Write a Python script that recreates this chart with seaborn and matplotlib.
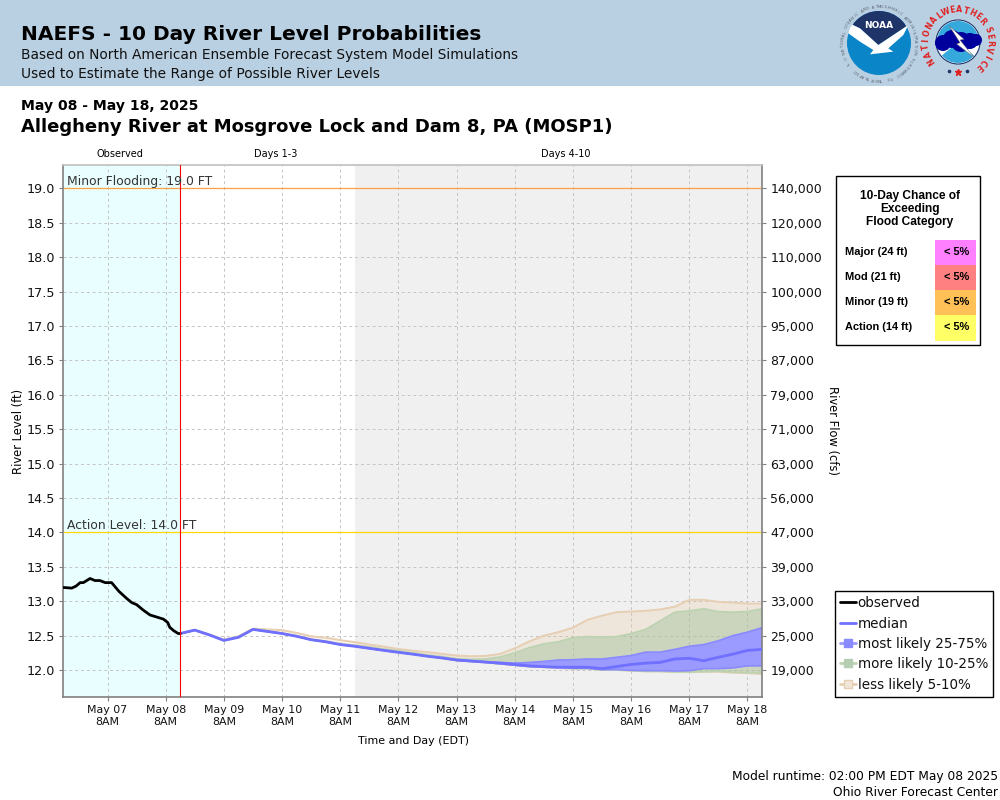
import numpy as np
import pandas as pd
import matplotlib
matplotlib.use("Agg")
import matplotlib.pyplot as plt
from matplotlib.patches import Rectangle, Circle, Wedge, Polygon
from matplotlib.lines import Line2D
import seaborn as sns

sns.set_theme(style="white")
plt.rcParams['font.family'] = ['DejaVu Sans']

# ---------- data (days since May 07 8AM) ----------
obs_t = [-0.76,-0.615,-0.54,-0.47,-0.415,-0.30,-0.215,-0.13,-0.04,0.07,0.2,0.33,0.415,0.50,0.615,0.73,0.845,0.96,1.035,1.07,1.14,1.215,1.25]
obs_v = [13.20,13.19,13.22,13.27,13.27,13.33,13.30,13.30,13.27,13.27,13.14,13.04,12.98,12.95,12.87,12.80,12.77,12.74,12.69,12.62,12.57,12.53,12.53]
fc_t = [1.25,1.5,1.75,2.0,2.25,2.5,2.75,3.0,3.25,3.5,3.75,4.0,4.25,4.5,4.75,5.0,5.25,5.5,5.75,6.0,6.25,6.5,6.75,7.0,
        7.25,7.5,7.75,8.0,8.25,8.5,8.75,9.0,9.25,9.5,9.75,10.0,10.25,10.5,10.75,11.0,11.25]
median = [12.53,12.58,12.51,12.43,12.475,12.59,12.56,12.53,12.49,12.44,12.41,12.37,12.345,12.315,12.285,12.257,12.23,12.20,12.175,12.145,12.13,12.115,12.10,12.08,
          12.06,12.05,12.04,12.04,12.04,12.02,12.05,12.08,12.10,12.11,12.16,12.17,12.135,12.185,12.23,12.285,12.30]
q75 = [12.53,12.58,12.51,12.43,12.475,12.59,12.56,12.53,12.49,12.44,12.41,12.37,12.345,12.315,12.285,12.257,12.23,12.20,12.175,12.15,12.135,12.12,12.11,12.10,
       12.11,12.125,12.145,12.15,12.16,12.16,12.185,12.21,12.26,12.26,12.30,12.345,12.37,12.425,12.50,12.55,12.615]
q25 = [12.53,12.58,12.51,12.43,12.475,12.59,12.56,12.53,12.49,12.44,12.41,12.37,12.345,12.315,12.285,12.257,12.23,12.20,12.175,12.14,12.125,12.11,12.09,12.07,
       12.05,12.04,12.035,12.025,12.025,12.005,12.005,11.995,11.99,11.99,11.985,11.99,12.02,12.02,12.03,12.06,12.06]
q90 = [12.53,12.58,12.51,12.43,12.475,12.59,12.565,12.535,12.495,12.445,12.42,12.38,12.36,12.335,12.305,12.28,12.25,12.22,12.195,12.165,12.155,12.16,12.19,12.25,
       12.325,12.38,12.41,12.47,12.485,12.48,12.485,12.53,12.59,12.715,12.84,12.86,12.89,12.85,12.84,12.85,12.89]
q10 = [12.53,12.58,12.51,12.43,12.475,12.59,12.56,12.53,12.49,12.44,12.41,12.37,12.345,12.315,12.285,12.257,12.23,12.20,12.175,12.14,12.125,12.11,12.09,12.07,
       12.05,12.04,12.03,12.02,12.02,12.00,12.00,11.99,11.98,11.98,11.97,11.97,11.975,11.98,11.97,11.96,11.955]
q95 = [12.53,12.58,12.52,12.44,12.49,12.60,12.59,12.58,12.54,12.49,12.47,12.435,12.405,12.37,12.34,12.305,12.28,12.26,12.235,12.21,12.20,12.205,12.235,12.315,
       12.415,12.50,12.55,12.615,12.73,12.79,12.84,12.85,12.86,12.88,12.92,13.02,13.02,12.99,12.98,12.965,12.965]
q05 = [12.53,12.58,12.51,12.43,12.475,12.59,12.56,12.53,12.49,12.44,12.41,12.37,12.345,12.315,12.285,12.257,12.23,12.20,12.175,12.14,12.125,12.11,12.09,12.07,
       12.05,12.04,12.03,12.02,12.02,12.00,12.00,11.99,11.98,11.98,11.97,11.97,11.975,11.975,11.96,11.955,11.94]

level_ticks = [12.0,12.5,13.0,13.5,14.0,14.5,15.0,15.5,16.0,16.5,17.0,17.5,18.0,18.5,19.0]
flow_labels = ["19,000","25,000","33,000","39,000","47,000","56,000","63,000","71,000","79,000","87,000","95,000","100,000","110,000","120,000","140,000"]
day_labels = ["May 07","May 08","May 09","May 10","May 11","May 12","May 13","May 14","May 15","May 16","May 17","May 18"]
flood_names = ["Major (24 ft)","Mod (21 ft)","Minor (19 ft)","Action (14 ft)"]
flood_chance = ["< 5%","< 5%","< 5%","< 5%"]
flood_colors = ["#FF80FF","#FF8080","#FFC058","#FFFF66"]

obs_df = pd.DataFrame({"t": obs_t, "v": obs_v})
fc_df = pd.DataFrame({"t": fc_t, "median": median})

W, H = 1000, 800
fig = plt.figure(figsize=(W/100, H/100), dpi=100, facecolor="white")

# ---------- overlay in pixel coordinates (behind) ----------
bg = fig.add_axes([0, 0, 1, 1], zorder=0)
bg.set_xlim(0, W); bg.set_ylim(H, 0); bg.axis("off")
bg.add_patch(Rectangle((0, 0), W, 85.5, fc="#B9D0E3", ec="none"))

def T(x, y, s, size, **kw):
    kw.setdefault("va", "baseline"); kw.setdefault("color", "black")
    bg.text(x, y, s, fontsize=size, **kw)

T(21, 40, "NAEFS - 10 Day River Level Probabilities", 14.5, fontweight="bold")
T(21, 59, "Based on North American Ensemble Forecast System Model Simulations", 9.88, color="#111111")
T(21, 78, "Used to Estimate the Range of Possible River Levels", 9.88, color="#111111")
T(21, 110, "May 08 - May 18, 2025", 10.05, fontweight="bold")
T(21, 132, "Allegheny River at Mosgrove Lock and Dam 8, PA (MOSP1)", 12.97, fontweight="bold")
T(120, 157, "Observed", 7, ha="center")
T(276, 157, "Days 1-3", 7, ha="center")
T(566, 157, "Days 4-10", 7, ha="center")
T(413, 744, "Time and Day (EDT)", 7.9, ha="center")
T(19, 431, "River Level (ft)", 8.3, ha="center", va="center", rotation=90)
T(832, 431, "River Flow (cfs)", 8.3, ha="center", va="center", rotation=-90)
T(998, 780, "Model runtime: 02:00 PM EDT May 08 2025", 8.8, ha="right")
T(998, 796, "Ohio River Forecast Center", 8.8, ha="right")

def ring(cx, cy, r, s, a0, a1, size, color, **kw):
    angs = np.linspace(a0, a1, len(s))
    for ch, a in zip(s, angs):
        px = cx + r*np.cos(np.radians(a)); py = cy - r*np.sin(np.radians(a))
        rot = a - 90 if a > -90 else a + 90
        bg.text(px, py, ch, fontsize=size, color=color, ha="center", va="center", rotation=rot, **kw)

def zp(pts):
    # logo outlines measured on a 3x crop whose origin is x=760, y=0
    return [(760 + x/3, y/3) for x, y in pts]

# NOAA logo
cx, cy = 879, 43
disc = Circle((cx, cy), 32, fc="#0A85C8", ec="none", zorder=2)
bg.add_patch(disc)
navy = Polygon(zp([(250, 60), (300, 85), (355, 135), (445, 75), (470, 60), (470, 20), (250, 20)]), fc="#1F3468", ec="none", zorder=3)
bg.add_patch(navy); navy.set_clip_path(Circle((cx, cy), 32, transform=bg.transData))
bird = Polygon(zp([(268, 70), (300, 85), (355, 135), (445, 75), (430, 105), (385, 145), (400, 155), (330, 163), (340, 150), (300, 125), (265, 100)]),
               fc="white", ec="none", zorder=4)
bg.add_patch(bird); bird.set_clip_path(Circle((cx, cy), 32.5, transform=bg.transData))
bg.text(cx, 25, "NOAA", color="white", fontsize=6.5, fontweight="bold", ha="center", va="center", zorder=5)
ring(cx, cy, 36, "NATIONAL OCEANIC AND ATMOSPHERIC ADMINISTRATION", 195, -15, 2.9, "#5A6470", zorder=5)
ring(cx, cy, 36, "U.S. DEPARTMENT OF COMMERCE", 205, 335, 2.9, "#5A6470", zorder=5)

# NWS logo
nx, ny = 958, 42
bg.add_patch(Circle((nx, ny), 22, fc="white", ec="#1F3468", lw=0.8, zorder=2))
bg.add_patch(Wedge((nx, ny), 21, 190, 350, fc="#35A8DC", ec="none", zorder=3))
bg.add_patch(Wedge((nx, ny), 21, 40, 140, fc="#35A8DC", ec="none", zorder=3))
for dx, dy, r in [(-15, 1, 8), (-6, -3, 9), (3, 0, 10), (12, -1, 8), (18, -2, 6)]:
    bg.add_patch(Circle((nx+dx, ny+dy), r, fc="#00009C", ec="none", zorder=4))
bg.add_patch(Polygon(zp([(568, 78), (612, 118), (600, 120), (642, 172), (590, 132), (600, 128)]), fc="white", ec="#666666", lw=0.3, zorder=5))
ring(nx, ny, 32, "NATIONAL", 215, 125, 5.6, "#E02020", fontweight="bold", zorder=5)
ring(nx, ny, 32, "WEATHER", 112, 40, 5.6, "#E02020", fontweight="bold", zorder=5)
ring(nx, ny, 32, "SERVICE", 22, -50, 5.6, "#E02020", fontweight="bold", zorder=5)
bg.plot([nx], [72], marker="*", ms=5, color="#E02020", zorder=5)
bg.plot([nx-9, nx+9], [71, 71], ls="none", marker="o", ms=1.6, color="#1F3468", zorder=5)

# Flood table
bg.add_patch(Rectangle((836, 176), 144, 168.5, fc="white", ec="black", lw=1, zorder=1))
for i, line in enumerate(["10-Day Chance of", "Exceeding", "Flood Category"]):
    T(910, 199+13*i, line, 8.6, ha="center", family="Liberation Sans", fontweight="bold", zorder=3)
for i, (n, c, col) in enumerate(zip(flood_names, flood_chance, flood_colors)):
    bg.add_patch(Rectangle((935, 240+25*i), 41, 25+(1 if i == 3 else 0), fc=col, ec="none", zorder=2))
    T(845, 255+25*i, n, 7.9, family="Liberation Sans", fontweight="bold", zorder=3)
    T(957, 255+25*i, c, 7.9, ha="center", family="Liberation Sans", fontweight="bold", zorder=3)

# ---------- main axes ----------
L, R, TOP, BOT = 63, 762, 165, 697
ax = fig.add_axes([L/W, 1-BOT/H, (R-L)/W, (BOT-TOP)/H], zorder=2)
ax.set_xlim(-0.765, 11.25)
ax.set_ylim(11.6075, 19.34)
ax.set_facecolor("white")
ax.axvspan(-0.765, 1.25, fc="#E9FFFF", ec="none", zorder=0)
ax.axvspan(4.25, 11.25, fc="#F0F0F0", ec="none", zorder=0)
ax.set_xticks(range(12))
ax.set_xticklabels([f"{d}\n8AM" for d in day_labels], fontsize=7.9, linespacing=1.25, color="#111111")
ax.set_yticks(level_ticks)
ax.set_yticklabels([f"{v:.1f}" for v in level_ticks], fontsize=9.2, color="#111111")
ax.grid(True, color="#C4C4C4", ls=(0, (3, 3)), lw=0.7, zorder=1)
ax.set_axisbelow(True)
ax.tick_params(axis="both", length=3, width=0.8, color="#808080", pad=3, bottom=True, left=True)
for side, sp in ax.spines.items():
    sp.set_color("#808080" if side in ("left", "bottom", "right") else "#C0C0C0"); sp.set_linewidth(1.2)

ax.fill_between(fc_t, q05, q95, fc="#E8B98A", alpha=0.2, ec="none", zorder=2)
ax.plot(fc_t, q95, color="#E6CFB2", lw=1.4, zorder=2.1)
ax.plot(fc_t, q05, color="#E6CFB2", lw=1.4, zorder=2.1)
ax.fill_between(fc_t, q10, q90, fc="#9CBF96", alpha=0.42, ec="none", zorder=2.2)
ax.plot(fc_t, q90, color="#BCD3B0", lw=1.2, zorder=2.3)
ax.plot(fc_t, q10, color="#BCD3B0", lw=1.2, zorder=2.3)
ax.fill_between(fc_t, q25, q75, fc="#9A9AFF", ec="none", zorder=2.4)
ax.plot(fc_t, q75, color="#8A8AFF", lw=1.2, zorder=2.5)
ax.plot(fc_t, q25, color="#8A8AFF", lw=1.2, zorder=2.5)
sns.lineplot(data=fc_df, x="t", y="median", ax=ax, color="#7070FF", lw=2.0, zorder=3, legend=False)
sns.lineplot(data=obs_df, x="t", y="v", ax=ax, color="black", lw=2.0, zorder=3.5, legend=False)
ax.set_xlabel(""); ax.set_ylabel("")

ax.axhline(19, color="#FFA040", lw=0.9, zorder=2)
ax.axhline(14, color="#FFD700", lw=0.9, zorder=2)
ax.axvline(1.25, color="#FF0000", lw=0.8, zorder=4)
ax.text(-0.70, 19.0, "Minor Flooding: 19.0 FT", fontsize=8.9, color="#333333", va="bottom", zorder=5)
ax.text(-0.70, 14.0, "Action Level: 14.0 FT", fontsize=8.9, color="#333333", va="bottom", zorder=5)

ax2 = ax.twinx()
ax2.set_ylim(ax.get_ylim())
ax2.set_yticks(level_ticks)
ax2.set_yticklabels(flow_labels, fontsize=9.0, color="#111111")
ax2.tick_params(axis="y", length=3, width=0.8, color="#808080", pad=3, right=True)
ax2.grid(False)
for side, sp in ax2.spines.items():
    sp.set_visible(False)

# ---------- legend ----------
handles = [
    Line2D([], [], color="black", lw=2, label="observed"),
    Line2D([], [], color="#7070FF", lw=2, label="median"),
    Line2D([], [], color="#9A9AFF", lw=2, marker="s", ms=6, mfc="#8A8AFF", mec="#8A8AFF", label="most likely 25-75%"),
    Line2D([], [], color="#BCD3B0", lw=2, marker="s", ms=6, mfc="#B5CDB0", mec="#B5CDB0", label="more likely 10-25%"),
    Line2D([], [], color="#E6CFB2", lw=2, marker="s", ms=6, mfc="#F0E6DA", mec="#E6CFB2", label="less likely 5-10%"),
]
leg = fig.legend(handles=handles, loc="upper left", bbox_to_anchor=(835/W, 1-591/H), bbox_transform=fig.transFigure,
                 fontsize=9.75, frameon=True, fancybox=False, edgecolor="black", facecolor="white", framealpha=1,
                 borderpad=0.38, labelspacing=0.47, handlelength=1.15, handletextpad=0.15, borderaxespad=0)
leg.get_frame().set_linewidth(1)
for t in leg.get_texts():
    t.set_color("#111111")

fig.savefig("out.png", dpi=100)
